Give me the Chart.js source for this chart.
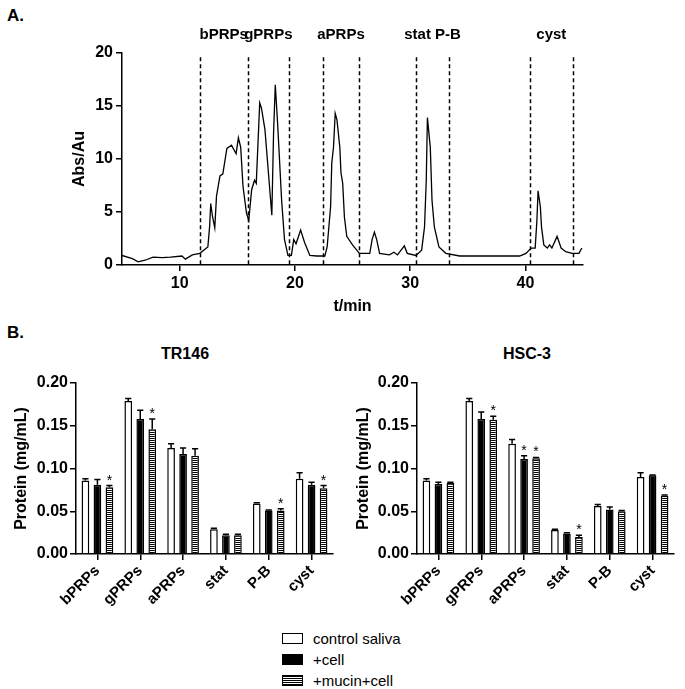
<!DOCTYPE html>
<html>
<head>
<meta charset="utf-8">
<script src="https://cdn.jsdelivr.net/npm/chart.js@4.4.1/dist/chart.umd.min.js"></script>
<style>
  html, body { margin: 0; padding: 0; background: #fff; }
  body { width: 685px; height: 689px; position: relative; overflow: hidden;
         font-family: 'Liberation Sans', Arial, sans-serif; color: #000; }
  canvas { position: absolute; }
  .txt { position: absolute; font-weight: bold; line-height: 1; white-space: nowrap; }
  .legend { position: absolute; left: 282px; top: 628px; }
  .legend .row { display: flex; align-items: center; height: 21px; }
  .legend .sw { width: 19px; height: 9px; border: 1px solid #000; margin-right: 10px; box-sizing: content-box; }
  .legend .lab { font-size: 15px; }
</style>
</head>
<body>
<div class="txt" style="left:7px; top:7px; font-size:17px;">A.</div>
<div class="txt" style="left:7px; top:324px; font-size:17px;">B.</div>
<div class="txt" style="left:161px; top:346px; font-size:16px;">TR146</div>
<div class="txt" style="left:503px; top:346px; font-size:16px;">HSC-3</div>

<canvas id="chrom" width="685" height="320" style="left:0; top:0;"></canvas>
<canvas id="tr146" width="342" height="260" style="left:0; top:360px;"></canvas>
<canvas id="hsc3" width="343" height="260" style="left:342px; top:360px;"></canvas>

<div class="legend" id="legend"></div>

<script>
// ---------- Data: chromatogram (panel A) ----------
const timeMin = [5, 5.9, 6.4, 7.0, 7.7, 8.5, 9.2, 10.2, 10.5, 11.1,
  11.75, 12.45, 12.6, 12.7, 12.85, 13.05, 13.2, 13.5, 13.75, 14.1,
  14.5, 14.9, 15.1, 15.3, 15.5, 15.8, 16.0, 16.25, 16.5, 16.65,
  16.95, 17.1, 17.4, 17.8, 18.0, 18.15, 18.3, 18.5, 18.85, 19.1,
  19.4, 19.7, 19.9, 20.1, 20.5, 20.85, 21.3, 21.9, 22.6, 22.8,
  23.1, 23.2, 23.35, 23.5, 23.65, 23.9, 24.0, 24.15, 24.3, 24.5,
  25.0, 25.6, 26.5, 26.7, 26.9, 27.1, 27.35, 28.2, 28.6, 28.9,
  29.5, 29.75, 30.5, 31.0, 31.25, 31.4, 31.5, 31.75, 31.9, 32.1,
  32.5, 33.1, 34.3, 39.5, 40.05, 40.5, 40.85, 41.0, 41.1, 41.3,
  41.4, 41.6, 41.9, 42.1, 42.3, 42.75, 43.1, 43.5, 44.05, 44.65,
  44.9];
const absorbance = [0.9, 0.6, 0.3, 0.45, 0.75, 0.7, 0.75, 0.85, 0.55, 0.95,
  1.1, 1.7, 3.6, 5.8, 4.6, 3.5, 6.5, 8.4, 8.6, 11.0,
  11.3, 10.5, 12.0, 11.1, 7.4, 4.9, 4.2, 7.1, 8.0, 7.7,
  15.3, 14.8, 12.8, 7.4, 4.7, 12.4, 17.0, 13.4, 6.1, 2.4,
  0.9, 0.9, 2.4, 2.0, 3.3, 2.1, 0.9, 0.85, 0.85, 1.7,
  5.5, 9.6, 11.1, 14.3, 13.7, 11.1, 8.7, 7.7, 4.5, 2.7,
  1.9, 1.1, 1.1, 2.4, 3.1, 2.4, 1.1, 0.95, 1.2, 0.95,
  1.8, 1.1, 0.9, 1.4, 3.6, 8.0, 13.9, 11.1, 6.1, 3.6,
  1.7, 1.1, 0.85, 0.85, 1.1, 1.6, 1.6, 4.2, 7.0, 5.5,
  3.6, 1.9, 1.6, 1.9, 1.6, 2.7, 1.6, 1.25, 1.1, 1.1,
  1.6];
const timeTicks = [10, 20, 30, 40];
const fractionNames = ['bPRPs', 'gPRPs', 'aPRPs', 'stat P-B', 'cyst'];
const fractionStart = [11.75, 15.9, 22.4, 30.5, 40.4];
const fractionEnd   = [15.9, 19.5, 25.6, 33.4, 44.1];

// ---------- Data: protein bars (panel B) ----------
const categories = ['bPRPs', 'gPRPs', 'aPRPs', 'stat', 'P-B', 'cyst'];
const seriesNames = ['control saliva', '+cell', '+mucin+cell'];

const tr146Control    = [0.086, 0.179, 0.124, 0.029, 0.059, 0.088];
const tr146ControlErr = [0.002, 0.003, 0.005, 0.001, 0.001, 0.007];
const tr146Cell       = [0.081, 0.158, 0.117, 0.022, 0.051, 0.081];
const tr146CellErr    = [0.006, 0.010, 0.007, 0.001, 0.0005, 0.003];
const tr146Mucin      = [0.078, 0.146, 0.115, 0.022, 0.051, 0.077];
const tr146MucinErr   = [0.002, 0.012, 0.008, 0.001, 0.002, 0.003];
const tr146SigControl = [false, false, false, false, false, false];
const tr146SigCell    = [false, false, false, false, false, false];
const tr146SigMucin   = [true, true, false, false, true, true];

const hsc3Control     = [0.086, 0.179, 0.129, 0.028, 0.056, 0.090];
const hsc3ControlErr  = [0.002, 0.003, 0.005, 0.001, 0.002, 0.005];
const hsc3Cell        = [0.082, 0.158, 0.111, 0.024, 0.052, 0.092];
const hsc3CellErr     = [0.002, 0.008, 0.004, 0.001, 0.003, 0.0005];
const hsc3Mucin       = [0.083, 0.157, 0.112, 0.020, 0.050, 0.068];
const hsc3MucinErr    = [0.001, 0.004, 0.001, 0.002, 0.001, 0.001];
const hsc3SigControl  = [false, false, false, false, false, false];
const hsc3SigCell     = [false, false, true, false, false, false];
const hsc3SigMucin    = [false, true, true, true, false, true];

const proteinTicks = [0, 0.05, 0.10, 0.15, 0.20];

// ---------- Rendering ----------
const FONT = "'Liberation Sans', Arial, sans-serif";

function stripePattern() {
  const c = document.createElement('canvas');
  c.width = 4; c.height = 2;
  const g = c.getContext('2d');
  g.fillStyle = '#fff'; g.fillRect(0, 0, 4, 2);
  g.fillStyle = '#000'; g.fillRect(0, 0, 4, 1);
  return g.createPattern(c, 'repeat');
}

const fractionPlugin = {
  id: 'fractions',
  afterDatasetsDraw(chart) {
    const ctx = chart.ctx, xs = chart.scales.x, ys = chart.scales.y;
    const bounds = Array.from(new Set(fractionStart.concat(fractionEnd)));
    ctx.save();
    ctx.strokeStyle = '#000';
    ctx.lineWidth = 1.5;
    ctx.setLineDash([4, 3]);
    bounds.forEach(t => {
      const x = Math.round(xs.getPixelForValue(t)) + 0.5;
      ctx.beginPath();
      ctx.moveTo(x, ys.getPixelForValue(19.6));
      ctx.lineTo(x, ys.getPixelForValue(0));
      ctx.stroke();
    });
    ctx.setLineDash([]);
    ctx.fillStyle = '#000';
    ctx.font = 'bold 15px ' + FONT;
    ctx.textAlign = 'center';
    ctx.textBaseline = 'middle';
    fractionNames.forEach((n, i) => {
      const x = (xs.getPixelForValue(fractionStart[i]) + xs.getPixelForValue(fractionEnd[i])) / 2;
      ctx.fillText(n, x, 35);
    });
    ctx.restore();
  }
};

new Chart(document.getElementById('chrom'), {
  type: 'line',
  data: {
    datasets: [{
      data: timeMin.map((t, i) => ({ x: t, y: absorbance[i] })),
      borderColor: '#000', borderWidth: 1.3, pointRadius: 0, tension: 0, fill: false
    }]
  },
  options: {
    responsive: false, animation: false, devicePixelRatio: 1,
    layout: { padding: { left: 66, top: 53, right: 102, bottom: 0 } },
    plugins: { legend: { display: false }, tooltip: { enabled: false } },
    scales: {
      x: {
        type: 'linear', min: 5, max: 45,
        afterBuildTicks: s => { s.ticks = timeTicks.map(v => ({ value: v })); },
        afterFit: s => { s.height = 55; },
        grid: { display: true, drawOnChartArea: false, tickLength: 6, color: '#000', lineWidth: 1.5 },
        border: { color: '#000', width: 1.5 },
        ticks: { color: '#000', font: { family: FONT, size: 16, weight: 'bold' }, padding: 3, maxRotation: 0 },
        title: { display: true, text: 't/min', color: '#000', font: { family: FONT, size: 16, weight: 'bold' }, padding: { top: 2, bottom: 4 } }
      },
      y: {
        min: 0, max: 20,
        ticks: { stepSize: 5, color: '#000', font: { family: FONT, size: 16, weight: 'bold' }, padding: 3 },
        afterFit: s => { s.width = 56; },
        grid: { display: true, drawOnChartArea: false, tickLength: 6, color: '#000', lineWidth: 1.5 },
        border: { color: '#000', width: 1.5 },
        title: { display: true, text: 'Abs/Au', color: '#000', font: { family: FONT, size: 16, weight: 'bold' }, padding: { top: 4, bottom: 4 } }
      }
    }
  },
  plugins: [fractionPlugin]
});

const errorBarPlugin = {
  id: 'errorBars',
  afterDatasetsDraw(chart) {
    const ctx = chart.ctx, ys = chart.scales.y;
    chart.data.datasets.forEach((ds, di) => {
      const meta = chart.getDatasetMeta(di);
      meta.data.forEach((bar, i) => {
        const top = ys.getPixelForValue(ds.data[i] + ds.errors[i]);
        const w = bar.width * 0.8;
        ctx.save();
        ctx.strokeStyle = '#000';
        ctx.lineWidth = 1.5;
        ctx.beginPath();
        ctx.moveTo(bar.x, bar.y);
        ctx.lineTo(bar.x, top);
        ctx.moveTo(bar.x - w / 2, top);
        ctx.lineTo(bar.x + w / 2, top);
        ctx.stroke();
        if (ds.sig[i]) {
          ctx.fillStyle = '#000';
          ctx.font = '14px ' + FONT;
          ctx.textAlign = 'center';
          ctx.textBaseline = 'alphabetic';
          ctx.fillText('*', bar.x, top - 1);
        }
        ctx.restore();
      });
    });
  }
};

function makeBarChart(id, vals, errs, sigs, padRight, yWidth) {
  const stripes = stripePattern();
  const fills = ['#fff', '#000', stripes];
  return new Chart(document.getElementById(id), {
    type: 'bar',
    data: {
      labels: categories,
      datasets: vals.map((v, k) => ({
        label: seriesNames[k], data: v, errors: errs[k], sig: sigs[k],
        backgroundColor: fills[k], borderColor: '#000', borderWidth: 1.5,
        categoryPercentage: 0.84, barPercentage: 0.64
      }))
    },
    options: {
      responsive: false, animation: false, devicePixelRatio: 1,
      layout: { padding: { left: 8, top: 23, right: padRight, bottom: 0 } },
      plugins: { legend: { display: false }, tooltip: { enabled: false } },
      scales: {
        x: {
          afterFit: s => { s.height = 66; },
          grid: { display: true, offset: false, drawOnChartArea: false, tickLength: 6, color: '#000', lineWidth: 1.5 },
          border: { color: '#000', width: 1.5 },
          ticks: { color: '#000', font: { family: FONT, size: 15, weight: 'bold' }, minRotation: 45, maxRotation: 45, padding: 2 }
        },
        y: {
          min: 0, max: 0.2,
          afterBuildTicks: s => { s.ticks = proteinTicks.map(v => ({ value: v })); },
          afterFit: s => { s.width = yWidth; },
          grid: { display: true, drawOnChartArea: false, tickLength: 6, color: '#000', lineWidth: 1.5 },
          border: { color: '#000', width: 1.5 },
          ticks: { color: '#000', font: { family: FONT, size: 16, weight: 'bold' }, padding: 2,
                   callback: v => Number(v).toFixed(2) },
          title: { display: true, text: 'Protein (mg/mL)', color: '#000', font: { family: FONT, size: 16, weight: 'bold' }, padding: { top: 4, bottom: 4 } }
        }
      }
    },
    plugins: [errorBarPlugin]
  });
}

makeBarChart('tr146',
  [tr146Control, tr146Cell, tr146Mucin],
  [tr146ControlErr, tr146CellErr, tr146MucinErr],
  [tr146SigControl, tr146SigCell, tr146SigMucin], 9, 68);

makeBarChart('hsc3',
  [hsc3Control, hsc3Cell, hsc3Mucin],
  [hsc3ControlErr, hsc3CellErr, hsc3MucinErr],
  [hsc3SigControl, hsc3SigCell, hsc3SigMucin], 11, 67);

// ---------- Legend ----------
const swatchStyles = [
  'background:#fff;',
  'background:#000;',
  'background:repeating-linear-gradient(to bottom,#000 0 1px,#fff 1px 2px);'
];
const legend = document.getElementById('legend');
seriesNames.forEach((n, k) => {
  const row = document.createElement('div');
  row.className = 'row';
  row.innerHTML = '<div class="sw" style="' + swatchStyles[k] + '"></div><span class="lab">' + n + '</span>';
  legend.appendChild(row);
});
</script>
</body>
</html>
